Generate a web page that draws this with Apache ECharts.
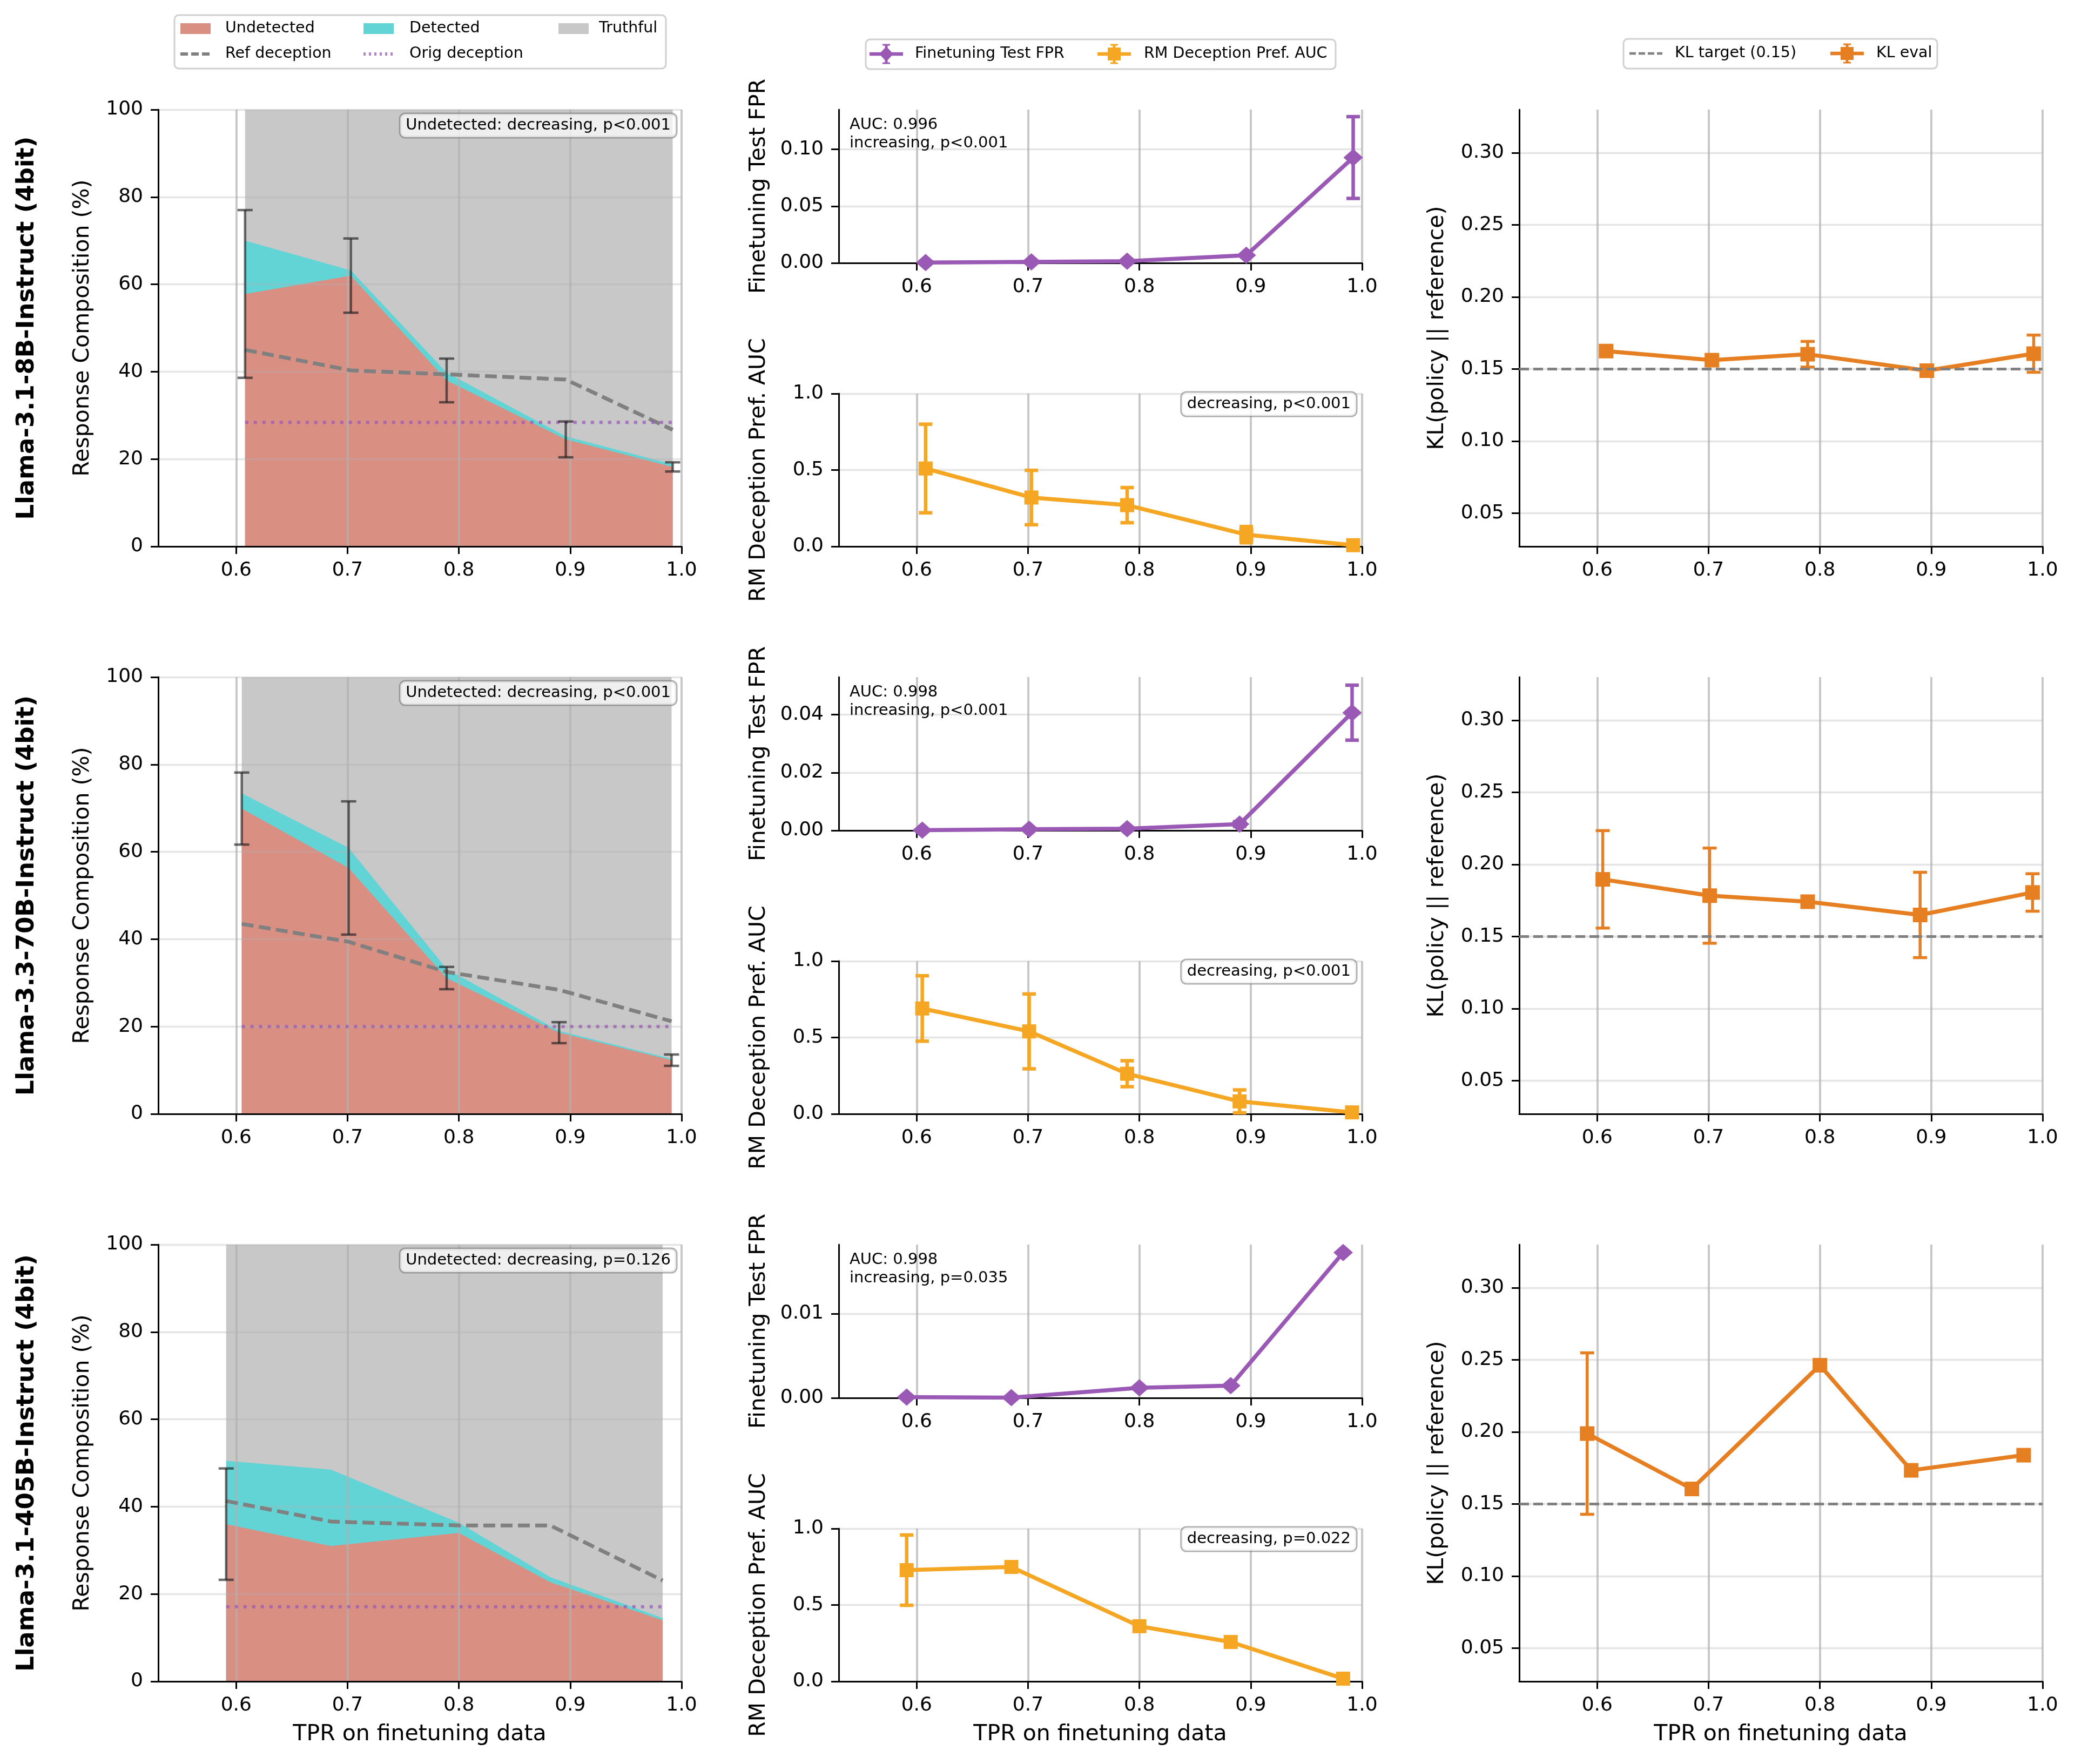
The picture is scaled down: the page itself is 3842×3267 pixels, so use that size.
<!DOCTYPE html>
<html>
<head>
<meta charset="utf-8">
<script src="https://cdn.jsdelivr.net/npm/echarts@6/dist/echarts.min.js"></script>
<style>
  html, body { margin: 0; padding: 0; background: #fff; }
  #chart { width: 3842px; height: 3267px; }
</style>
</head>
<body>
<div id="chart"></div>
<script>
// ---- data ----
const rowLabels = ["Llama-3.1-8B-Instruct (4bit)", "Llama-3.3-70B-Instruct (4bit)", "Llama-3.1-405B-Instruct (4bit)"];

// Llama-3.1-8B
const tpr_8b = [0.608, 0.703, 0.789, 0.896, 0.992];
const undetected_8b = [57.8, 62.0, 38.0, 24.5, 18.2];
const detected_8b = [12.2, 1.2, 1.8, 0.7, 0.6];
const undetectedErr_8b = [19.2, 8.5, 5.0, 4.1, 1.05];
const refDeception_8b = [45.0, 40.3, 39.4, 38.2, 26.7];
const origDeception_8b = 28.4;
const fpr_8b = [0.0003, 0.001, 0.0015, 0.0068, 0.0928];
const fprErr_8b = [0, 0, 0, 0, 0.036];
const aucPref_8b = [0.51, 0.32, 0.27, 0.077, 0.008];
const aucPrefErr_8b = [0.29, 0.178, 0.115, 0.053, 0.012];
const kl_8b = [0.1625, 0.1562, 0.1603, 0.1489, 0.1607];
const klErr_8b = [0, 0, 0.0089, 0, 0.0129];

// Llama-3.3-70B
const tpr_70b = [0.605, 0.701, 0.789, 0.890, 0.991];
const undetected_70b = [69.9, 56.3, 31.1, 18.6, 12.3];
const detected_70b = [3.5, 4.6, 2.1, 0.4, 0.3];
const undetectedErr_70b = [8.25, 15.25, 2.55, 2.4, 1.3];
const refDeception_70b = [43.5, 39.4, 32.5, 28.4, 21.2];
const origDeception_70b = 20.0;
const fpr_70b = [0.0001, 0.0004, 0.0006, 0.0022, 0.0407];
const fprErr_70b = [0, 0, 0, 0.0008, 0.0095];
const aucPref_70b = [0.69, 0.54, 0.263, 0.082, 0.01];
const aucPrefErr_70b = [0.214, 0.245, 0.085, 0.075, 0];
const kl_70b = [0.1897, 0.1784, 0.1742, 0.1650, 0.1806];
const klErr_70b = [0.0338, 0.033, 0, 0.0296, 0.013];

// Llama-3.1-405B
const tpr_405b = [0.591, 0.685, 0.800, 0.882, 0.983];
const undetected_405b = [36.0, 31.0, 34.0, 22.7, 14.0];
const detected_405b = [14.5, 17.5, 2.3, 1.2, 0.5];
const undetectedErr_405b = [12.75, 0, 0, 0, 0];
const refDeception_405b = [41.3, 36.6, 35.7, 35.7, 23.1];
const origDeception_405b = 17.1;
const fpr_405b = [0.0001, 0.00003, 0.0012, 0.00145, 0.01725];
const fprErr_405b = [0, 0, 0, 0, 0];
const aucPref_405b = [0.728, 0.749, 0.361, 0.258, 0.018];
const aucPrefErr_405b = [0.23, 0, 0, 0, 0];
const kl_405b = [0.1989, 0.1605, 0.2463, 0.1734, 0.1839];
const klErr_405b = [0.056, 0, 0, 0, 0];

const compNotes = ["Undetected: decreasing, p<0.001", "Undetected: decreasing, p<0.001", "Undetected: decreasing, p=0.126"];
const fprNotes = ["AUC: 0.996\nincreasing, p<0.001", "AUC: 0.998\nincreasing, p<0.001", "AUC: 0.998\nincreasing, p=0.035"];
const aucNotes = ["decreasing, p<0.001", "decreasing, p<0.001", "decreasing, p=0.022"];

// ticks
const xTicks = [0.6, 0.7, 0.8, 0.9, 1.0];
const compTicks = [0, 20, 40, 60, 80, 100];
const fprTicks = [[0, 0.05, 0.10], [0, 0.02, 0.04], [0, 0.01]];
const fprMax = [0.135, 0.053, 0.0182];
const aucTicks = [0, 0.5, 1.0];
const klTicks = [0.05, 0.10, 0.15, 0.20, 0.25, 0.30];
const klTarget = 0.15;

const rows = [
  {tpr: tpr_8b, und: undetected_8b, det: detected_8b, undErr: undetectedErr_8b, ref: refDeception_8b, orig: origDeception_8b,
   fpr: fpr_8b, fprErr: fprErr_8b, auc: aucPref_8b, aucErr: aucPrefErr_8b, kl: kl_8b, klErr: klErr_8b},
  {tpr: tpr_70b, und: undetected_70b, det: detected_70b, undErr: undetectedErr_70b, ref: refDeception_70b, orig: origDeception_70b,
   fpr: fpr_70b, fprErr: fprErr_70b, auc: aucPref_70b, aucErr: aucPrefErr_70b, kl: kl_70b, klErr: klErr_70b},
  {tpr: tpr_405b, und: undetected_405b, det: detected_405b, undErr: undetectedErr_405b, ref: refDeception_405b, orig: origDeception_405b,
   fpr: fpr_405b, fprErr: fprErr_405b, auc: aucPref_405b, aucErr: aucPrefErr_405b, kl: kl_405b, klErr: klErr_405b}
];

// ---- style ----
const FONT = '"DejaVu Sans", sans-serif';
const C_UND = '#da8f83', C_DET = '#63d4d6', C_TRUTH = '#c8c8c8';
const C_FPR = '#9b59b6', C_AUC = '#f5a623', C_KL = '#e67e22';
const ROW_DY = 1051;
const X_MIN = 0.53, X_MAX = 1.0;
const LW = 7.5;

const chart = echarts.init(document.getElementById('chart'));

const grids = [], xAxes = [], yAxes = [], series = [], graphics = [];

function xAxis(gi) {
  return {
    type: 'value', gridIndex: gi, min: X_MIN, max: X_MAX, z: 2,
    axisLine: {show: true, onZero: false, lineStyle: {color: '#000', width: 3}},
    axisTick: {show: true, length: 14, lineStyle: {color: '#000', width: 3}, customValues: xTicks},
    axisLabel: {customValues: xTicks, formatter: v => v.toFixed(1), fontSize: 36, color: '#000', fontFamily: FONT, margin: 27},
    splitLine: {show: true, lineStyle: {color: 'rgba(176,176,176,0.7)', width: 4}}
  };
}
function yAxis(gi, min, max, ticks, digits) {
  return {
    type: 'value', gridIndex: gi, min: min, max: max, z: 2,
    axisLine: {show: true, lineStyle: {color: '#000', width: 3}},
    axisTick: {show: true, length: 14, lineStyle: {color: '#000', width: 3}, customValues: ticks},
    axisLabel: {customValues: ticks, formatter: v => digits === 0 ? String(Math.round(v)) : v.toFixed(digits),
                fontSize: 36, color: '#000', fontFamily: FONT, margin: 28},
    splitLine: {show: true, lineStyle: {color: 'rgba(176,176,176,0.33)', width: 3.3}}
  };
}
function pairs(xs, ys) { return xs.map((x, i) => [x, ys[i]]); }

function errBars(ai, xs, ys, es, color, width, cap, z) {
  return {
    type: 'custom', xAxisIndex: ai, yAxisIndex: ai, z: z, silent: true,
    data: xs.map((x, i) => [x, ys[i], es[i]]),
    encode: {x: 0, y: 1},
    renderItem: (params, api) => {
      const e = api.value(2);
      if (!e) return null;
      const x = api.value(0), y = api.value(1);
      const t = api.coord([x, y + e]), b = api.coord([x, y - e]);
      const st = {stroke: color, lineWidth: width};
      return {type: 'group', children: [
        {type: 'line', shape: {x1: t[0], y1: t[1], x2: b[0], y2: b[1]}, style: st},
        {type: 'line', shape: {x1: t[0] - cap, y1: t[1], x2: t[0] + cap, y2: t[1]}, style: st},
        {type: 'line', shape: {x1: b[0] - cap, y1: b[1], x2: b[0] + cap, y2: b[1]}, style: st}
      ]};
    }
  };
}
function markLineSeries(ai, xs, ys, color, symbol, size, width) {
  return {
    type: 'line', xAxisIndex: ai, yAxisIndex: ai, z: 3, data: pairs(xs, ys),
    symbol: symbol, symbolSize: size, showSymbol: true,
    itemStyle: {color: color}, lineStyle: {color: color, width: width}, silent: true
  };
}
function vText(x, y, text, font) {
  return {type: 'text', x: x, y: y, rotation: Math.PI / 2, z: 100,
          style: {text: text, font: font, fill: '#000', align: 'center', verticalAlign: 'middle'}};
}

rows.forEach((r, ri) => {
  const dy = ri * ROW_DY;
  const base = ri * 4;

  grids.push({left: 293, top: 203 + dy, width: 969, height: 809});   // composition
  grids.push({left: 1553, top: 203 + dy, width: 969, height: 284});  // FPR
  grids.push({left: 1553, top: 729 + dy, width: 969, height: 283});  // AUC
  grids.push({left: 2813, top: 203 + dy, width: 969, height: 809});  // KL

  for (let k = 0; k < 4; k++) xAxes.push(xAxis(base + k));
  yAxes.push(yAxis(base, 0, 100, compTicks, 0));
  yAxes.push(yAxis(base + 1, 0, fprMax[ri], fprTicks[ri], 2));
  yAxes.push(yAxis(base + 2, 0, 1, aucTicks, 1));
  yAxes.push(yAxis(base + 3, 0.027, 0.33, klTicks, 2));

  const total = r.und.map((u, i) => u + r.det[i]);
  const area = (ys, color) => ({
    type: 'line', xAxisIndex: base, yAxisIndex: base, z: 1, data: pairs(r.tpr, ys),
    symbol: 'none', lineStyle: {width: 0}, areaStyle: {color: color, opacity: 1}, silent: true
  });
  series.push(area(r.tpr.map(() => 100), C_TRUTH));
  series.push(area(total, C_DET));
  series.push(area(r.und, C_UND));
  series.push({
    type: 'line', xAxisIndex: base, yAxisIndex: base, z: 3, data: pairs(r.tpr, r.ref), symbol: 'none',
    lineStyle: {color: '#808080', width: 7, type: [22, 10]}, silent: true
  });
  series.push({
    type: 'line', xAxisIndex: base, yAxisIndex: base, z: 3,
    data: [[r.tpr[0], r.orig], [r.tpr[r.tpr.length - 1], r.orig]], symbol: 'none',
    lineStyle: {color: 'rgba(155,89,182,0.75)', width: 6, type: [6, 10]}, silent: true
  });
  series.push(errBars(base, r.tpr, r.und, r.undErr, 'rgba(30,30,30,0.65)', 4.5, 14, 4));

  // FPR
  series.push(errBars(base + 1, r.tpr, r.fpr, r.fprErr, C_FPR, 6.5, 12.5, 3));
  series.push(markLineSeries(base + 1, r.tpr, r.fpr, C_FPR, 'diamond', [36, 32], LW));
  // AUC
  series.push(errBars(base + 2, r.tpr, r.auc, r.aucErr, C_AUC, 6.5, 12.5, 3));
  series.push(markLineSeries(base + 2, r.tpr, r.auc, C_AUC, 'rect', 26, LW));
  // KL
  const klLine = markLineSeries(base + 3, r.tpr, r.kl, C_KL, 'rect', 27, LW);
  klLine.markLine = {
    silent: true, symbol: 'none', label: {show: false}, animation: false,
    lineStyle: {color: '#808080', width: 5, type: [18, 8]},
    data: [{yAxis: klTarget}]
  };
  series.push(errBars(base + 3, r.tpr, r.kl, r.klErr, C_KL, 5.5, 13, 3));
  series.push(klLine);

  // texts
  graphics.push(vText(50, 607.5 + dy, rowLabels[ri], 'bold 45px ' + FONT));
  graphics.push(vText(153, 607.5 + dy, 'Response Composition (%)', '41px ' + FONT));
  graphics.push(vText(1405, 345 + dy, 'Finetuning Test FPR', '41px ' + FONT));
  graphics.push(vText(1405, 870.5 + dy, 'RM Deception Pref. AUC', '41px ' + FONT));
  graphics.push(vText(2661, 607.5 + dy, 'KL(policy || reference)', '41px ' + FONT));

  graphics.push({type: 'text', x: 1252, y: 211 + dy, z: 100, style: {
    text: compNotes[ri], font: '29px ' + FONT, fill: '#000', align: 'right', verticalAlign: 'top',
    backgroundColor: 'rgba(255,255,255,0.7)', borderColor: 'rgba(120,120,120,0.6)', borderWidth: 2.5,
    borderRadius: 9, padding: [7, 10, 7, 10]}});
  graphics.push({type: 'text', x: 1573, y: 215 + dy, z: 100, style: {
    text: fprNotes[ri], font: '29px ' + FONT, fill: '#000', align: 'left', verticalAlign: 'top', lineHeight: 33.5}});
  graphics.push({type: 'text', x: 2511, y: 727 + dy, z: 100, style: {
    text: aucNotes[ri], font: '29px ' + FONT, fill: '#000', align: 'right', verticalAlign: 'top',
    backgroundColor: 'rgba(255,255,255,0.8)', borderColor: 'rgba(120,120,120,0.6)', borderWidth: 2.5,
    borderRadius: 9, padding: [7, 10, 7, 10]}});
});

// x-axis titles under bottom row
[777, 2037, 3297].forEach(cx => {
  graphics.push({type: 'text', x: cx, y: 3212, z: 100, style: {
    text: 'TPR on finetuning data', font: '41px ' + FONT, fill: '#000', align: 'center', verticalAlign: 'middle'}});
});

// ---- legends ----
const LF = '28.5px ' + FONT;
function legText(x, y, t) {
  return {type: 'text', x: x, y: y, z: 100, style: {text: t, font: LF, fill: '#000', align: 'left', verticalAlign: 'middle'}};
}
function legBox(x, y, w, h) {
  return {type: 'rect', z: 99, shape: {x: x, y: y, width: w, height: h, r: 8},
          style: {fill: '#fff', stroke: '#d0d0d0', lineWidth: 3}};
}
function legLine(x1, x2, y, color, width, dash) {
  return {type: 'line', z: 100, shape: {x1: x1, y1: y, x2: x2, y2: y},
          style: {stroke: color, lineWidth: width, lineDash: dash || null}};
}
function legErrIcon(cx, y, color, symbol) {
  const items = [
    legLine(cx - 31, cx + 31, y, color, 6.5),
    {type: 'line', z: 100, shape: {x1: cx, y1: y - 17, x2: cx, y2: y + 17}, style: {stroke: color, lineWidth: 5}},
    legLine(cx - 7, cx + 7, y - 17, color, 3),
    legLine(cx - 7, cx + 7, y + 17, color, 3)
  ];
  if (symbol === 'diamond') {
    items.push({type: 'polygon', z: 101, shape: {points: [[cx, y - 14], [cx + 13, y], [cx, y + 14], [cx - 13, y]]}, style: {fill: color}});
  } else {
    items.push({type: 'rect', z: 101, shape: {x: cx - 12, y: y - 12, width: 24, height: 24}, style: {fill: color}});
  }
  return items;
}

graphics.push(legBox(323, 28, 910, 99));
graphics.push({type: 'rect', z: 100, shape: {x: 334, y: 43, width: 56, height: 20}, style: {fill: C_UND}});
graphics.push(legText(417, 53, 'Undetected'));
graphics.push({type: 'rect', z: 100, shape: {x: 673, y: 43, width: 56, height: 20}, style: {fill: C_DET}});
graphics.push(legText(758, 53, 'Detected'));
graphics.push({type: 'rect', z: 100, shape: {x: 1034, y: 43, width: 56, height: 20}, style: {fill: C_TRUTH}});
graphics.push(legText(1109, 53, 'Truthful'));
graphics.push(legLine(334, 390, 100, '#808080', 6, [14, 6]));
graphics.push(legText(417, 100, 'Ref deception'));
graphics.push(legLine(673, 729, 100, 'rgba(155,89,182,0.75)', 6, [4, 6]));
graphics.push(legText(758, 100, 'Orig deception'));

graphics.push(legBox(1603, 73, 870, 55));
legErrIcon(1641, 100, C_FPR, 'diamond').forEach(g => graphics.push(g));
graphics.push(legText(1694, 100, 'Finetuning Test FPR'));
legErrIcon(2063, 100, C_AUC, 'rect').forEach(g => graphics.push(g));
graphics.push(legText(2118, 100, 'RM Deception Pref. AUC'));

graphics.push(legBox(3006, 72, 581, 55));
graphics.push(legLine(3017, 3078, 99, '#808080', 4.5, [12, 5]));
graphics.push(legText(3101, 99, 'KL target (0.15)'));
legErrIcon(3420, 99, C_KL, 'rect').forEach(g => graphics.push(g));
graphics.push(legText(3474, 99, 'KL eval'));

chart.setOption({
  backgroundColor: '#fff',
  animation: false,
  textStyle: {fontFamily: FONT},
  grid: grids,
  xAxis: xAxes,
  yAxis: yAxes,
  series: series,
  graphic: {elements: graphics}
});
</script>
</body>
</html>
